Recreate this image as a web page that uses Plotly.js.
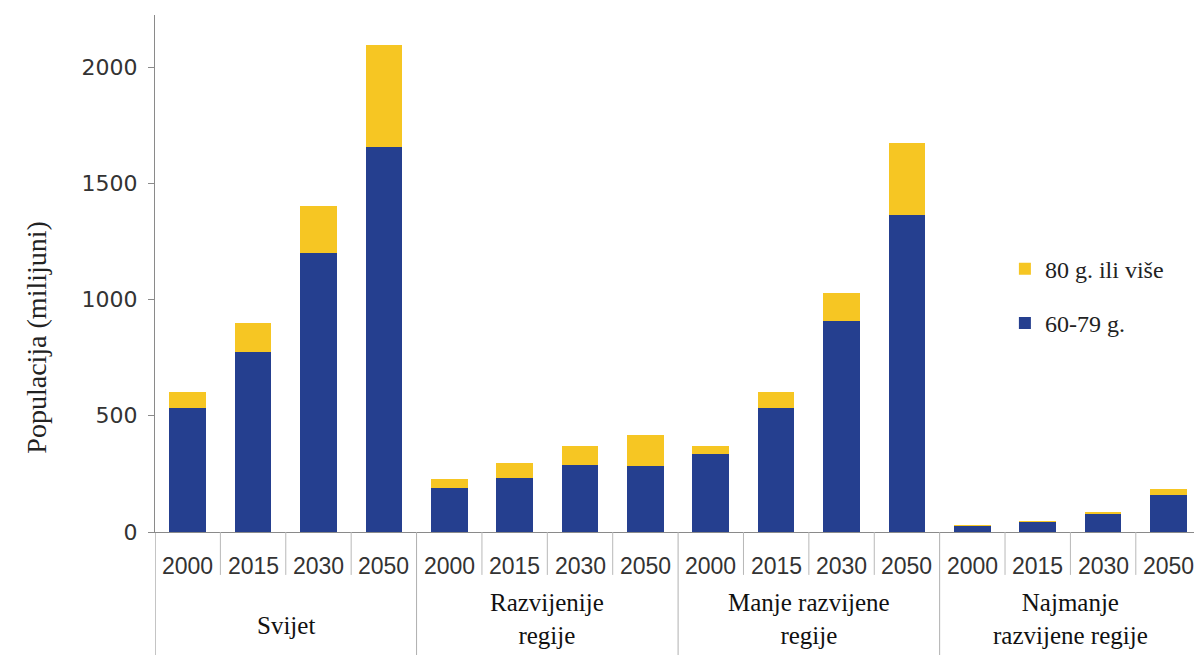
<!DOCTYPE html>
<html>
<head>
<meta charset="utf-8">
<script src="https://cdn.plot.ly/plotly-3.0.1.min.js"></script>
<style>html,body{margin:0;padding:0;background:#fff;}#chart{width:1194px;height:655px;}</style>
</head>
<body>
<div id="chart"></div>
<script>
// Data
const regions = ["Svijet", "Razvijenije<br>regije", "Manje razvijene<br>regije", "Najmanje<br>razvijene regije"];
const years = ["2000", "2015", "2030", "2050"];
const age6079 = [535, 773, 1199, 1657, 191, 234, 288, 285, 335, 535, 907, 1363, 27, 44, 76, 159];
const age80plus = [68, 125, 203, 438, 37, 61, 83, 132, 36, 66, 120, 309, 3, 3, 11, 25];
const seriesNames = ["60-79 g.", "80 g. ili više"];
const yTitle = "Populacija (milijuni)";

const serif = "Liberation Serif, Times New Roman, serif";
const sans = "Liberation Sans, Arial, sans-serif";

const lvl1 = [], lvl2 = [];
regions.forEach(function (r) { years.forEach(function (y) { lvl1.push(r); lvl2.push(y); }); });

const traces = [
  { type: "bar", name: seriesNames[0], x: [lvl1, lvl2], y: age6079, marker: { color: "#253f8f" },
    legendgroup: "b", legendrank: 2 },
  { type: "bar", name: seriesNames[1], x: [lvl1, lvl2], y: age80plus, marker: { color: "#f6c623" },
    legendgroup: "a", legendrank: 1 }
];

const n = age6079.length;
const per = years.length;
const shapes = [];
const annotations = [];
// year dividers and year labels
for (let i = 0; i < n; i++) {
  if (i < n - 1 && (i + 1) % per !== 0) {
    shapes.push({ type: "line", xref: "x", yref: "paper", x0: i + 0.5, x1: i + 0.5, y0: 0, y1: -0.083,
      line: { color: "#b8b8b8", width: 1 } });
  }
  annotations.push({ xref: "x", yref: "paper", x: i, y: -0.066, text: lvl2[i], showarrow: false,
    xanchor: "center", yanchor: "middle", font: { family: sans, size: 23, color: "#333" } });
}
// group dividers and group labels
regions.forEach(function (r, g) {
  shapes.push({ type: "line", xref: "x", yref: "paper", x0: g * per - 0.5, x1: g * per - 0.5, y0: 0, y1: -0.24,
    line: { color: g === 0 ? "#8a8a8a" : "#b0b0b0", width: 1 } });
  const twoLine = r.indexOf("<br>") >= 0;
  annotations.push({ xref: "x", yref: "paper", x: g * per + (per - 1) / 2, y: twoLine ? -0.168 : -0.18, text: r,
    showarrow: false, xanchor: "center", yanchor: "middle", font: { family: serif, size: 25, color: "#111" } });
});
// y title
annotations.push({ xref: "paper", yref: "paper", x: -0.114, y: 0.377, text: yTitle, textangle: -90, showarrow: false,
  xanchor: "center", yanchor: "middle", font: { family: serif, size: 28, color: "#222" } });

const layout = {
  width: 1194, height: 655,
  margin: { l: 155, r: 0, t: 15, b: 123 },
  barmode: "stack",
  bargap: 0.44,
  paper_bgcolor: "#fff", plot_bgcolor: "#fff",
  showlegend: true,
  legend: { x: 0.818, y: 0.552, xanchor: "left", yanchor: "top", traceorder: "grouped",
    tracegroupgap: 20, font: { family: serif, size: 24, color: "#222" }, bgcolor: "rgba(0,0,0,0)" },
  xaxis: {
    type: "multicategory",
    range: [-0.5, 15.39],
    showline: true, linecolor: "#8a8a8a", linewidth: 1,
    ticks: "", showgrid: false, zeroline: false,
    showticklabels: false, showdividers: false
  },
  yaxis: {
    range: [0, 2224],
    tickvals: [0, 500, 1000, 1500, 2000],
    showline: true, linecolor: "#8a8a8a", linewidth: 1,
    ticks: "outside", ticklen: 6, tickcolor: "#8a8a8a",
    showgrid: false, zeroline: false,
    ticklabelstandoff: 6,
    tickfont: { family: "DejaVu Sans, sans-serif", size: 22, color: "#333" }
  },
  shapes: shapes,
  annotations: annotations
};

Plotly.newPlot("chart", traces, layout, { displayModeBar: false, staticPlot: true });
</script>
</body>
</html>
